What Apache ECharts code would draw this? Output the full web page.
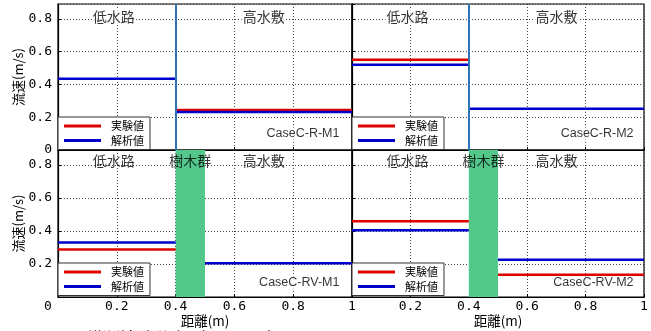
<!DOCTYPE html>
<html><head><meta charset="utf-8">
<script src="https://cdn.jsdelivr.net/npm/echarts@6/dist/echarts.min.js"></script>
<style>html,body{margin:0;padding:0;background:#fff}#c{width:651px;height:331px}</style>
</head><body><div id="c"></div>
<script>
const panelNames = ['CaseC-R-M1', 'CaseC-R-M2', 'CaseC-RV-M1', 'CaseC-RV-M2'];
const zoneNames = ['低水路', '樹木群', '高水敷'];
const seriesNames = ['実験値', '解析値'];
const yName = '流速(m/s)';
const xName = '距離(m)';
const caption = '図-3　横断流速分布（ケースC）';
// values: [low channel (0–0.4), high floodplain]
const expRM1 = [null, 0.244];
const anaRM1 = [0.434, 0.232];
const expRM2 = [0.55, null];
const anaRM2 = [0.52, 0.252];
const expRVM1 = [0.287, null];
const anaRVM1 = [0.33, 0.204];
const expRVM2 = [0.459, 0.135];
const anaRVM2 = [0.404, 0.226];
const channelEdge = 0.4;
const treeEdge = 0.5;
const yMax = 0.89;

const expAll = [expRM1, expRM2, expRVM1, expRVM2];
const anaAll = [anaRM1, anaRM2, anaRVM1, anaRVM2];
const hasTrees = [false, false, true, true];

const CJK = '"Noto Sans CJK JP", sans-serif';
const MONO = '"DejaVu Sans Mono", monospace';
const RED = '#dd0000', BLUE = '#0000cc', GREEN = '#53c88a', EDGE = '#2e75b6';

function seg(v, start2) {
  const d = [];
  if (v[0] != null) { d.push([0, v[0]], [channelEdge, v[0]]); }
  if (v[1] != null) {
    if (d.length) d.push([start2, '-']);
    d.push([start2, v[1]], [1, v[1]]);
  }
  return d;
}

const grids = [
  { left: 58, top: 4, width: 294, height: 146 },
  { left: 352, top: 4, width: 292, height: 146 },
  { left: 58, top: 150, width: 294, height: 147 },
  { left: 352, top: 150, width: 292, height: 147 }
].map(g => Object.assign(g, { show: true, borderColor: '#000', borderWidth: 1.2, backgroundColor: 'transparent' }));

const xAxes = grids.map((g, i) => ({
  type: 'value', gridIndex: i, min: 0, max: 1, interval: 0.2,
  axisLine: { show: true, lineStyle: { color: '#000', width: 1.2 } },
  axisTick: { show: true, inside: true, length: 3, lineStyle: { color: '#000' } },
  splitLine: { show: true, lineStyle: { color: '#444', type: [1, 2], width: 1 } },
  axisLabel: {
    show: i >= 2, margin: 3, color: '#000', fontFamily: MONO, fontSize: 13,
    formatter: v => (v === 0 ? (i === 2 ? '{s|0}' : '') : String(v)),
    rich: { s: { fontFamily: MONO, fontSize: 13, color: '#000', padding: [0, 20, 0, 0] } }
  },
  name: i >= 2 ? xName : '', nameLocation: 'middle', nameGap: 16,
  nameTextStyle: { fontFamily: CJK, fontSize: 13.5, color: '#000' }
}));

const yAxes = grids.map((g, i) => ({
  type: 'value', gridIndex: i, min: 0, max: yMax, interval: 0.2,
  axisLine: { show: true, lineStyle: { color: '#000', width: 1.2 } },
  axisTick: { show: true, inside: true, length: 3, lineStyle: { color: '#000' } },
  splitLine: { show: true, lineStyle: { color: '#444', type: [1, 2], width: 1 } },
  axisLabel: {
    show: i % 2 === 0, margin: 6, color: '#000', fontFamily: MONO, fontSize: 13,
    showMaxLabel: false, showMinLabel: i === 0,
    formatter: v => String(v)
  },
  name: i % 2 === 0 ? yName : '', nameLocation: 'middle', nameGap: 32,
  nameTextStyle: { fontFamily: CJK, fontSize: 13, color: '#000' }
}));

const series = [];
grids.forEach((g, i) => {
  const start2 = hasTrees[i] ? treeEdge : channelEdge;
  const exp = {
    name: seriesNames[0], type: 'line', xAxisIndex: i, yAxisIndex: i,
    data: seg(expAll[i], start2), showSymbol: false, symbol: 'none', connectNulls: false,
    lineStyle: { color: RED, width: 2.5 }, itemStyle: { color: RED }, z: 3, animation: false
  };
  const ana = {
    name: seriesNames[1], type: 'line', xAxisIndex: i, yAxisIndex: i,
    data: seg(anaAll[i], start2), showSymbol: false, symbol: 'none', connectNulls: false,
    lineStyle: { color: BLUE, width: 2.5 }, itemStyle: { color: BLUE }, z: 3, animation: false
  };
  if (hasTrees[i]) {
    ana.markArea = { silent: true, itemStyle: { color: GREEN, opacity: 1 },
      data: [[{ xAxis: channelEdge }, { xAxis: treeEdge }]] };
  } else {
    ana.markLine = { silent: true, symbol: 'none', label: { show: false },
      lineStyle: { color: EDGE, width: 2, type: 'solid' }, data: [{ xAxis: channelEdge }] };
  }
  series.push(exp, ana);
  const zy = i < 2 ? 0.815 : 0.825;
  const zones = hasTrees[i]
    ? [{ name: zoneNames[0], value: [0.19, zy] }, { name: zoneNames[1], value: [0.45, zy] }, { name: zoneNames[2], value: [0.70, zy] }]
    : [{ name: zoneNames[0], value: [0.19, zy] }, { name: zoneNames[2], value: [0.70, zy] }];
  series.push({
    type: 'scatter', xAxisIndex: i, yAxisIndex: i, symbolSize: 1, silent: true, z: 5,
    itemStyle: { color: 'rgba(0,0,0,0)' }, data: zones, animation: false,
    label: { show: true, position: 'inside', formatter: '{b}', color: '#000', fontFamily: CJK, fontSize: 14,
      backgroundColor: hasTrees[i] ? 'transparent' : '#fff', padding: [0, 1] }
  });
  series.push({
    type: 'scatter', xAxisIndex: i, yAxisIndex: i, symbolSize: 1, silent: true, z: 5,
    itemStyle: { color: 'rgba(0,0,0,0)' }, animation: false,
    data: [{ name: panelNames[i], value: [i % 2 === 0 ? 0.959 : 0.966, i < 2 ? 0.098 : 0.086] }],
    label: { show: true, position: 'left', distance: 0, formatter: '{b}', color: '#000',
      fontFamily: '"Liberation Sans", Arial, sans-serif', fontSize: 12.5, backgroundColor: '#fff' }
  });
});

const legends = grids.map((g, i) => ({
  left: g.left, top: i < 2 ? 117 : 263, orient: 'vertical', data: seriesNames,
  icon: 'rect', itemWidth: 37, itemHeight: 3, itemGap: 2.5, padding: [3, 6, 3, 6],
  borderColor: '#333', borderWidth: 1, backgroundColor: '#fff', selectedMode: false, z: 10,
  textStyle: { fontFamily: CJK, fontSize: 11, color: '#000', lineHeight: 12, padding: [0, 0, 0, 5] }
}));

const chart = echarts.init(document.getElementById('c'), null, { renderer: 'canvas' });
chart.setOption({
  animation: false,
  backgroundColor: '#fff',
  grid: grids, xAxis: xAxes, yAxis: yAxes, legend: legends, series: series,
  graphic: [{ type: 'text', x: 37, y: 330, silent: true,
    style: { text: caption, fontFamily: CJK, fontSize: 17, fill: '#000', verticalAlign: 'top', align: 'left' } }]
});
</script></body></html>
